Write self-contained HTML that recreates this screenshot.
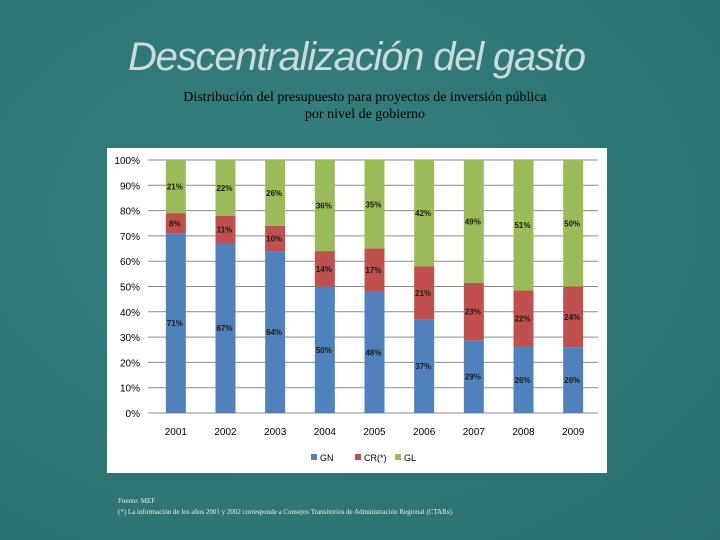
<!DOCTYPE html>
<html><head><meta charset="utf-8"><style>
body{margin:0;width:720px;height:540px;overflow:hidden;background:#2e7876;font-family:"Liberation Sans",sans-serif;}
#bg{position:absolute;left:0;top:0;width:720px;height:540px;background:radial-gradient(ellipse at 40% 40%,#35807e,#2a6f6e);}
.t{position:absolute;}
</style></head><body>
<div id="bg"></div>
<div class="t" style="left:128px;top:35px;font-family:'Liberation Sans',sans-serif;font-style:italic;font-size:40px;color:#c9dcdb;letter-spacing:-1.2px;white-space:nowrap;">Descentralización del gasto</div>
<div class="t" style="left:130px;top:89px;width:470px;text-align:center;font-family:'Liberation Serif',serif;font-size:14px;line-height:17px;color:#000;">Distribución del presupuesto para proyectos de inversión pública<br>por nivel de gobierno</div>
<svg class="t" style="left:0;top:0" width="720" height="540" id="chart">
<rect x="107" y="148" width="500" height="325" fill="#fff"/>
</svg>
<div class="t" style="left:118px;top:496px;font-family:'Liberation Serif',serif;font-size:7px;line-height:11px;color:#e8f0f0;">Fuente: MEF<br>(*) La información de los años 2001 y 2002 corresponde a Consejos Transitorios de Administración Regional (CTARs).</div>
<script>
const years=["2001","2002","2003","2004","2005","2006","2007","2008","2009"];
const gn=[71,67,64,50,48,37,29,26,26];
const cr=[8,11,10,14,17,21,23,22,24];
const gl=[21,22,26,36,35,42,49,51,50];
const ticks=[0,10,20,30,40,50,60,70,80,90,100];
const svg=document.getElementById('chart');
const NS='http://www.w3.org/2000/svg';
const x0=151,x1=598,y0=413,y1=160;
const step=(x1-x0)/years.length;
const yS=v=>y0-(y0-y1)*v/100;
const xC=i=>x0+step*(i+0.5);
function mk(t,a){const e=document.createElementNS(NS,t);for(const k in a)e.setAttribute(k,a[k]);svg.appendChild(e);return e;}
ticks.forEach(t=>{
 const l=mk('line',{x1:x0-3,x2:x1,y1:yS(t),y2:yS(t),stroke:'#8a8a8a','stroke-width':1});
 
 
 const tx=mk('text',{x:140,y:yS(t)+4,'text-anchor':'end','font-size':10,'font-family':'Liberation Sans, sans-serif',fill:'#000'});
 tx.textContent=t+'%';
 
 
});
const series=[[gn,'#4f81bd','gn'],[cr,'#c0504d','cr'],[gl,'#9bbb59','gl']];
years.forEach((yr,i)=>{
 let base=0;const w=20,cx=xC(i);
 const tot=gn[i]+cr[i]+gl[i];
 series.forEach(([arr,col,nm])=>{
  const v=arr[i]*100/tot;
  const r=mk('rect',{x:cx-w/2,y:yS(base+v),width:w,height:yS(base)-yS(base+v),fill:col});
  
  
  const tx=mk('text',{x:cx-1,y:yS(base+v/2)+3,'text-anchor':'middle','font-size':8,'font-weight':'bold','font-family':'Liberation Sans, sans-serif',fill:'#1a1a1a'});
  tx.textContent=arr[i]+'%';
  
  
  base+=v;
 });
 const lb=mk('text',{x:cx,y:435,'text-anchor':'middle','font-size':10,'font-family':'Liberation Sans, sans-serif',fill:'#000'});
 lb.textContent=yr;
 
 
});
const leg=[['GN','#4f81bd',311],['CR(*)','#c0504d',355],['GL','#9bbb59',395]];
leg.forEach(([n,c,x])=>{
 const r=mk('rect',{x:x,y:454,width:6,height:6,fill:c});
 
 
 const t=mk('text',{x:x+9,y:461,'font-size':9,'font-family':'Liberation Sans, sans-serif',fill:'#000'});
 t.textContent=n;
 
 
});
</script>
</body></html>
